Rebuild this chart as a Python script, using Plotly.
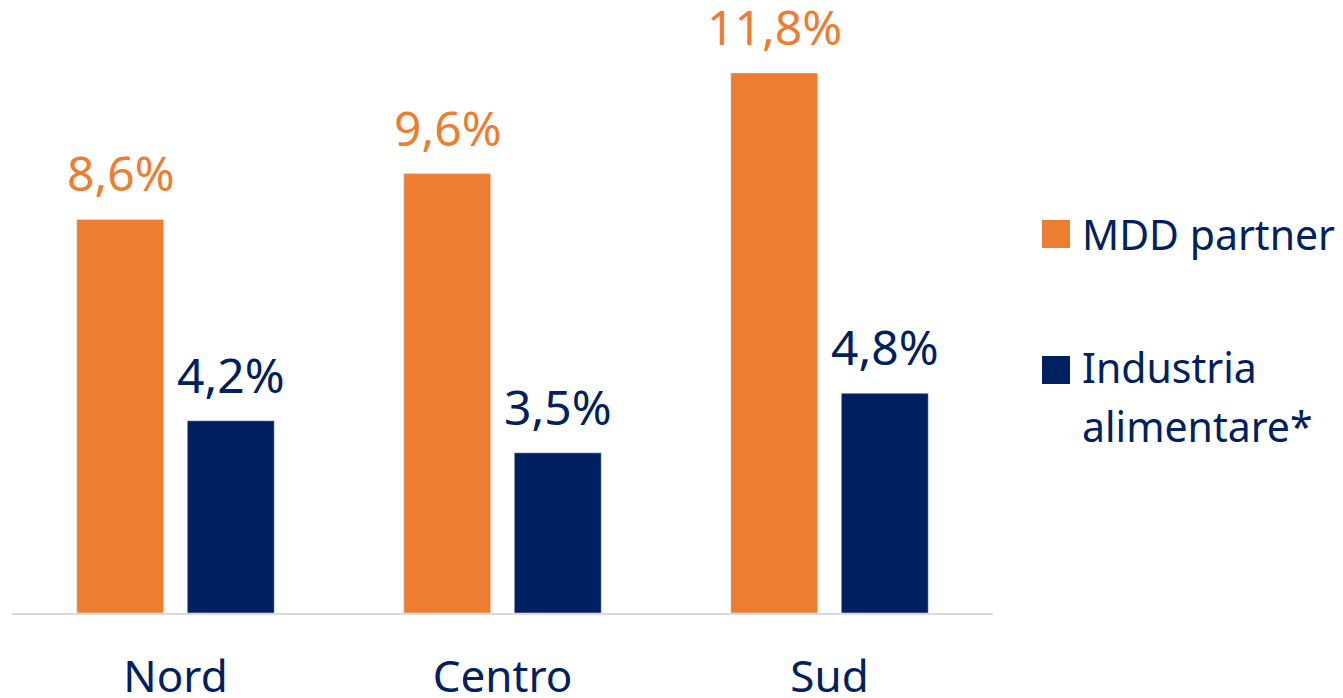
import plotly.graph_objects as go

categories = ["Nord", "Centro", "Sud"]
mdd_partner = [8.6, 9.6, 11.8]
industria = [4.2, 3.5, 4.8]
series_names = ["MDD partner", "Industria", "alimentare*"]

ORANGE = "#ED7D31"
NAVY = "#002060"
FONT = "Noto Sans"

# page has an 8px body margin; figure sized to fit the window
OFF = 8
W, H = 1343 - OFF, 698 - OFF
l, r, t, b = 12 - OFF, 350, 18 - OFF, 85
pw, ph = W - l - r, H - t - b


def px(x):
    return (x - OFF - l) / pw


def py(y):
    return (H - b - (y - OFF)) / ph


fig = go.Figure()
fig.add_trace(go.Bar(x=categories, y=mdd_partner, name=series_names[0],
                     marker_color=ORANGE, showlegend=False))
fig.add_trace(go.Bar(x=categories, y=industria, name=series_names[1],
                     marker_color=NAVY, showlegend=False))

annotations = []
GROUP_SHIFT = 55
for cat, v in zip(categories, mdd_partner):
    annotations.append(dict(x=cat, y=v, xref="x", yref="y", text=f"{v:.1f}%".replace(".", ","),
                            showarrow=False, xanchor="center", yanchor="bottom",
                            xshift=-GROUP_SHIFT, yshift=12,
                            font=dict(size=48, color=ORANGE, family=FONT)))
for cat, v in zip(categories, industria):
    annotations.append(dict(x=cat, y=v, xref="x", yref="y", text=f"{v:.1f}%".replace(".", ","),
                            showarrow=False, xanchor="center", yanchor="bottom",
                            xshift=GROUP_SHIFT, yshift=12,
                            font=dict(size=48, color=NAVY, family=FONT)))

# manual legend (large square swatches)
shapes = []
swatches = [(ORANGE, 234), (NAVY, 370)]
for col, yc in swatches:
    shapes.append(dict(type="rect", xref="paper", yref="paper",
                       x0=px(1042), x1=px(1070), y0=py(yc + 14), y1=py(yc - 14),
                       fillcolor=col, line=dict(width=0)))
legend_lines = [(series_names[0], 234), (series_names[1], 367), (series_names[2], 426)]
for txt, yc in legend_lines:
    annotations.append(dict(text=txt, xref="paper", yref="paper",
                            x=px(1080), y=py(yc), xanchor="left", yanchor="middle",
                            align="left", showarrow=False,
                            font=dict(size=41, color=NAVY, family=FONT)))

# small stray axis tick at far right
shapes.append(dict(type="line", xref="paper", yref="paper",
                   x0=px(1335), x1=px(1343), y0=py(609.5), y1=py(609.5),
                   line=dict(color="#D9D9D9", width=1)))

fig.update_layout(
    width=W, height=H,
    margin=dict(l=l, r=r, t=t, b=b, pad=0, autoexpand=False),
    paper_bgcolor="white", plot_bgcolor="white",
    barmode="group", bargap=0.324, bargroupgap=0.213,
    shapes=shapes, annotations=annotations,
    xaxis=dict(showline=True, linecolor="#D9D9D9", linewidth=2,
               showgrid=False, zeroline=False, ticks="", automargin=False,
               ticklabelstandoff=24,
               tickfont=dict(size=44, color=NAVY, family=FONT),
               range=[-0.5, 2.5], fixedrange=True),
    yaxis=dict(visible=False, range=[0, 13], showgrid=False, zeroline=False),
    font=dict(family=FONT),
)

fig.write_html("out.html")
